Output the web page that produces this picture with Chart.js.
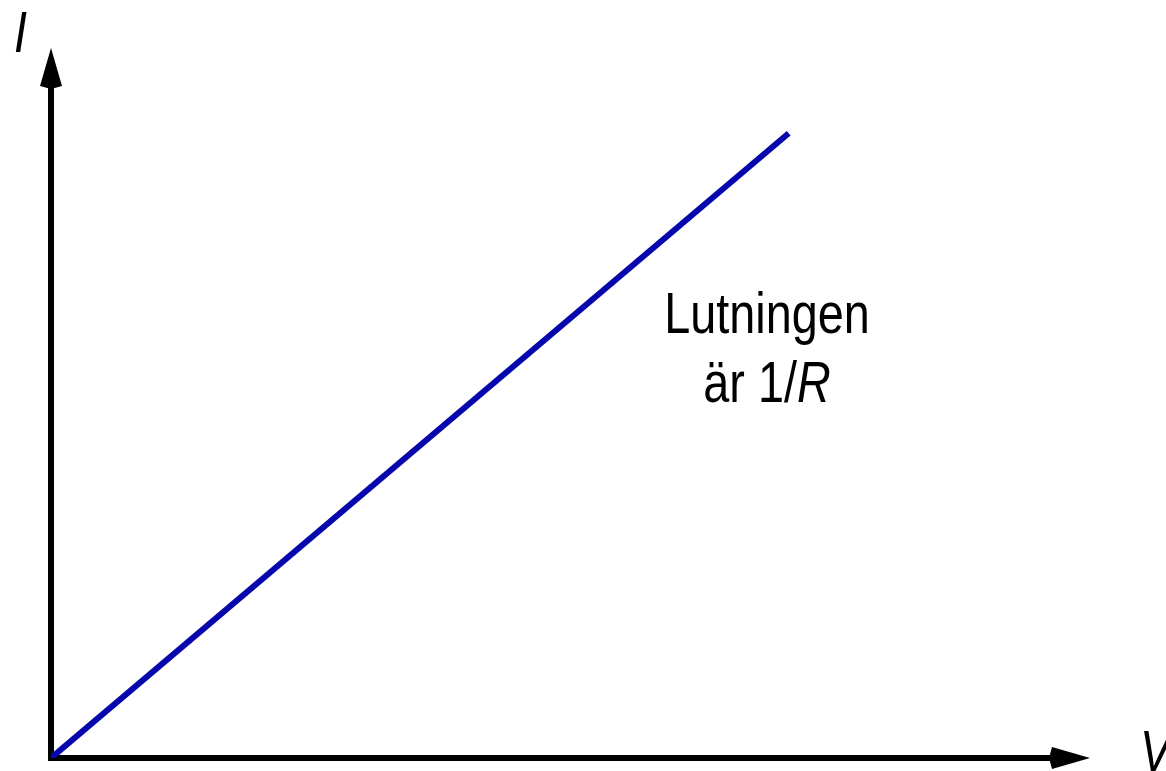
<!DOCTYPE html>
<html>
<head>
<meta charset="utf-8">
<script src="https://cdn.jsdelivr.net/npm/chart.js@4.4.1/dist/chart.umd.min.js"></script>
<style>
  html, body { margin: 0; padding: 0; background: #fff; }
  #wrap { width: 1166px; height: 771px; }
</style>
</head>
<body>
<div id="wrap"><canvas id="myChart" width="1166" height="771"></canvas></div>
<script>
// Ohm's law sketch: current grows linearly with voltage
var voltage = [0, 7.1];
var current = [0, 8.8];
var xAxisLabel = 'V';
var yAxisLabel = 'I';
var noteLines = ['Lutningen', 'är 1/'];
var noteItalic = 'R';

var FONT = "'Liberation Sans', Arial, sans-serif";
var NARROW = 0.82; // squeeze Liberation Sans into a narrow face

var points = voltage.map(function (v, i) { return { x: v, y: current[i] }; });

// text drawn with a horizontal squeeze, x is the left edge
function narrowText(c, txt, x, y, italic) {
  c.save();
  c.font = (italic ? 'italic ' : '') + '57px ' + FONT;
  c.textAlign = 'left';
  c.translate(x, y);
  c.scale(NARROW, 1);
  c.fillText(txt, 0, 0);
  c.restore();
}
function narrowWidth(c, txt, italic) {
  c.save();
  c.font = (italic ? 'italic ' : '') + '57px ' + FONT;
  var w = c.measureText(txt).width * NARROW;
  c.restore();
  return w;
}

// draws the two arrowed axes, their letters and the slope note
var sketchAxes = {
  id: 'sketchAxes',
  beforeDatasetsDraw: function (chart) {
    var c = chart.ctx;
    var xs = chart.scales.x, ys = chart.scales.y;
    var x0 = xs.getPixelForValue(0), y0 = ys.getPixelForValue(0);
    var xEnd = xs.right, yEnd = ys.top;
    c.save();
    c.strokeStyle = '#000';
    c.fillStyle = '#000';
    c.lineWidth = 6;
    c.lineCap = 'butt';
    c.beginPath();
    c.moveTo(x0, y0 + 3);
    c.lineTo(x0, yEnd + 38);
    c.moveTo(x0 - 3, y0);
    c.lineTo(xEnd - 38, y0);
    c.stroke();
    // y arrow head
    c.beginPath();
    c.moveTo(x0, yEnd);
    c.lineTo(x0 - 11, yEnd + 38);
    c.lineTo(x0, yEnd + 41);
    c.lineTo(x0 + 11, yEnd + 38);
    c.closePath();
    c.fill();
    // x arrow head
    c.beginPath();
    c.moveTo(xEnd, y0);
    c.lineTo(xEnd - 38, y0 - 11);
    c.lineTo(xEnd - 41, y0);
    c.lineTo(xEnd - 38, y0 + 11);
    c.closePath();
    c.fill();
    c.restore();
  },
  afterDraw: function (chart) {
    var c = chart.ctx;
    c.save();
    c.fillStyle = '#000';
    c.textBaseline = 'alphabetic';
    narrowText(c, yAxisLabel, 14, 52, true);
    narrowText(c, xAxisLabel, 1140, 771, true);

    // slope note, both lines centred on cx
    var cx = 767;
    var w0 = narrowWidth(c, noteLines[0], false);
    narrowText(c, noteLines[0], cx - w0 / 2, 333, false);
    var w1 = narrowWidth(c, noteLines[1], false);
    var w2 = narrowWidth(c, noteItalic, true);
    var left = cx - (w1 + w2) / 2;
    narrowText(c, noteLines[1], left, 402, false);
    narrowText(c, noteItalic, left + w1, 402, true);
    c.restore();
  }
};

var ctx = document.getElementById('myChart').getContext('2d');
var myChart = new Chart(ctx, {
  type: 'scatter',
  data: {
    datasets: [{
      data: points,
      showLine: true,
      borderColor: '#0606ad',
      borderWidth: 6,
      pointRadius: 0,
      fill: false
    }]
  },
  options: {
    responsive: false,
    animation: false,
    layout: { padding: { left: 51, right: 76, top: 48, bottom: 13 } },
    plugins: { legend: { display: false }, tooltip: { enabled: false } },
    scales: {
      x: { type: 'linear', min: 0, max: 10, display: false },
      y: { type: 'linear', min: 0, max: 10, display: false }
    }
  },
  plugins: [sketchAxes]
});
</script>
</body>
</html>
